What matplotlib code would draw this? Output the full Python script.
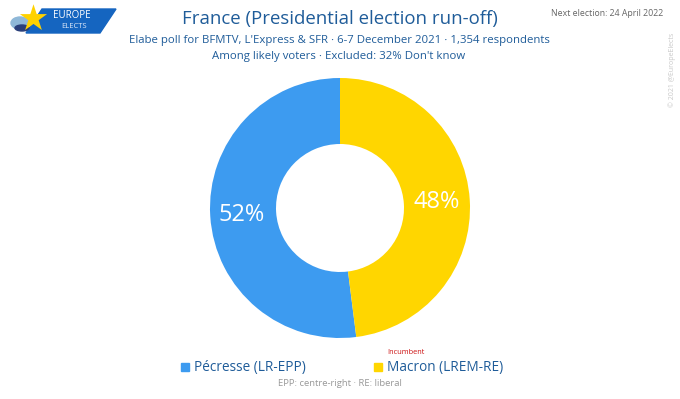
import matplotlib.pyplot as plt
from matplotlib.patches import Polygon, Rectangle
import matplotlib.patches as mpatches

# Datos del sondeo
candidates = ['Pécresse (LR-EPP)', 'Macron (LREM-RE)']
shares = [52, 48]
colors = ['#3d9bf0', '#ffd600']
pct_labels = ['52%', '48%']

title = 'France (Presidential election run-off)'
subtitle1 = "Elabe poll for BFMTV, L'Express & SFR · 6-7 December 2021 · 1,354 respondents"
subtitle2 = "Among likely voters · Excluded: 32% Don't know"
next_election = 'Next election: 24 April 2022'
footnote = 'EPP: centre-right · RE: liberal'

plt.rcParams['font.family'] = ['Open Sans', 'DejaVu Sans']
W, H = 680, 399
dark_blue = '#1f5c99'

fig = plt.figure(figsize=(6.8, 3.99), dpi=100)
ax = fig.add_axes([0, 0, 1, 1])

# Donut
wedges, _ = ax.pie(shares, colors=colors, startangle=90, counterclock=True,
                   center=(340, H - 208), radius=130,
                   wedgeprops=dict(width=66, edgecolor='white', linewidth=0))
ax.text(242, H - 215, pct_labels[0], color='white', fontsize=17,
        ha='center', va='center')
ax.text(437, H - 202, pct_labels[1], color='white', fontsize=17,
        ha='center', va='center')

ax.set_xlim(0, W)
ax.set_ylim(0, H)
ax.set_aspect('equal')
ax.axis('off')

# Titulos
ax.text(340, H - 19, title, color=dark_blue, fontsize=13.4, ha='center', va='center')
ax.text(339, H - 41, subtitle1, color=dark_blue, fontsize=8.2, ha='center', va='center')
ax.text(339, H - 56, subtitle2, color=dark_blue, fontsize=8.2, ha='center', va='center')
ax.text(663, H - 14, next_election, color='#666666', fontsize=6.3, ha='right', va='center')
ax.text(672, H - 70, '© 2021 @EuropeElects', color='#c8c8c8', fontsize=5,
        rotation=90, ha='center', va='center')

# Logo
ax.add_patch(Polygon([(42, H - 9), (116, H - 9), (100, H - 33), (26, H - 33)],
                     closed=True, color='#1565c0'))
ax.add_patch(mpatches.Ellipse((20, H - 23), 18, 12, color='#8fb8d8'))
ax.add_patch(mpatches.Ellipse((22, H - 28), 14, 6, color='#2a3f7a'))
ax.scatter([33], [H - 18], s=420, marker='*', color='#ffd200', zorder=5, linewidths=0)
ax.text(72, H - 15, 'EUROPE', color='white', fontsize=7, ha='center', va='center')
ax.text(74, H - 27, 'ELECTS', color='#dde8f8', fontsize=5.5, ha='center', va='center')

# Leyenda
ax.add_patch(Rectangle((181, H - 371), 8, 8, color=colors[0]))
ax.text(194, H - 367, candidates[0], color=dark_blue, fontsize=9.8, ha='left', va='center')
ax.add_patch(Rectangle((374, H - 371), 8, 8, color=colors[1]))
ax.text(387, H - 367, candidates[1], color=dark_blue, fontsize=9.8, ha='left', va='center')
ax.text(387, H - 353, 'Incumbent', color='#cc1111', fontsize=5.3, ha='left', va='center')
ax.text(340, H - 384, footnote, color='#999999', fontsize=6.8, ha='center', va='center')

fig.savefig('out.png', dpi=100)
